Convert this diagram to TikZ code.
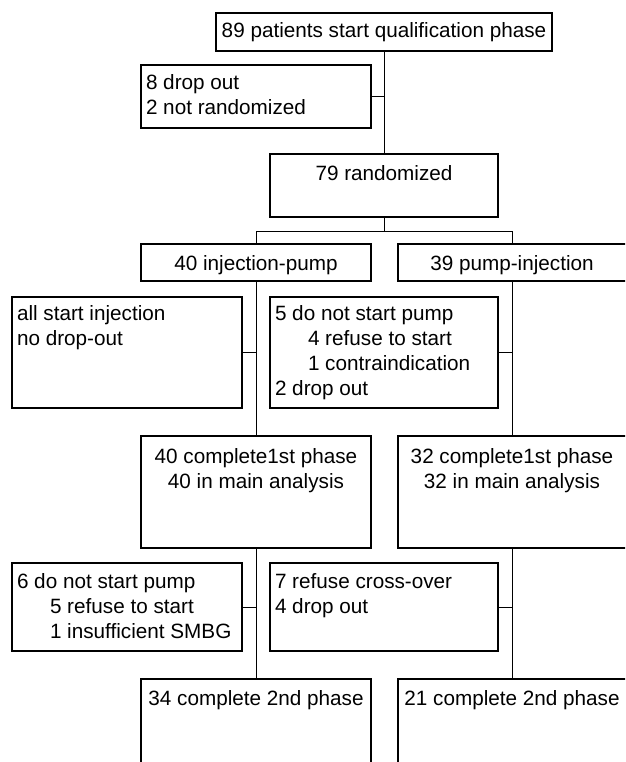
\documentclass[tikz,border=0pt]{standalone}
\usepackage{fontspec}
\setmainfont{Liberation Sans}
\begin{document}
\begin{tikzpicture}[x=1pt,y=-1pt,
  box/.style={draw=black,line width=1.5pt,rectangle,inner sep=0pt,outer sep=0pt},
  conn/.style={draw=black,line width=0.7pt},
  txt/.style={inner sep=0pt,outer sep=0pt,font=\fontsize{20.7}{25}\selectfont},
  ltxt/.style={txt,anchor=base west},
  ctxt/.style={txt,anchor=base}]
\useasboundingbox (0,0) rectangle (625,762);
\clip (0,0) rectangle (625,762);
% boxes
\node[box,minimum width=336pt,minimum height=38pt] (top) at (384,32) {};
\node[box,minimum width=230pt,minimum height=63pt] (drop) at (256,96.5) {};
\node[box,minimum width=228pt,minimum height=63pt] (rand) at (384,185.5) {};
\node[box,minimum width=230pt,minimum height=37pt] (inj) at (256,262.5) {};
\node[box,minimum width=232pt,minimum height=37pt] (pump) at (514,262.5) {};
\node[box,minimum width=230pt,minimum height=111pt] (allstart) at (127,352.5) {};
\node[box,minimum width=228pt,minimum height=111pt] (notstart) at (384,352.5) {};
\node[box,minimum width=230pt,minimum height=112pt] (compA) at (256,492) {};
\node[box,minimum width=232pt,minimum height=112pt] (compB) at (514,492) {};
\node[box,minimum width=230pt,minimum height=88pt] (six) at (127,607) {};
\node[box,minimum width=228pt,minimum height=88pt] (seven) at (384,607) {};
\node[box,minimum width=230pt,minimum height=121pt] (secA) at (256,739.5) {};
\node[box,minimum width=232pt,minimum height=121pt] (secB) at (514,739.5) {};
% connectors
\coordinate (split) at (384,231);
\coordinate (lj) at (256,231);
\coordinate (rj) at (512,231);
\draw[conn] (top.south) -- (rand.north);
\draw[conn] (drop.east) -- (drop.east -| top.south);
\draw[conn] (rand.south) -- (split);
\draw[conn] (lj) -- (rj);
\draw[conn] (lj) -- (inj.north);
\draw[conn] (rj) -- (rj |- pump.north);
\draw[conn] (inj.south) -- (compA.north);
\draw[conn] (rj |- pump.south) -- (rj |- compB.north);
\draw[conn] (allstart.east) -- (allstart.east -| inj.south);
\draw[conn] (notstart.east) -- (notstart.east -| rj);
\draw[conn] (compA.south) -- (secA.north);
\draw[conn] (rj |- compB.south) -- (rj |- secB.north);
\draw[conn] (six.east) -- (six.east -| compA.south);
\draw[conn] (seven.east) -- (seven.east -| rj);
% texts
\node[ctxt] (t1) at (384,38) {89 patients start qualification phase};
\node[ltxt] (t2) at (146,90) {8 drop out};
\node[ltxt] (t3) at (146,115) {2 not randomized};
\node[ctxt] (t4) at (384,180) {79 randomized};
\node[ctxt] (t5) at (256,270) {40 injection-pump};
\node[ctxt] (t6) at (512,270) {39 pump-injection};
\node[ltxt] (t7) at (17,320) {all start injection};
\node[ltxt] (t8) at (17,345) {no drop-out};
\node[ltxt] (t9) at (275,320) {5 do not start pump};
\node[ltxt] (t10) at (308,345) {4 refuse to start};
\node[ltxt] (t11) at (308,370) {1 contraindication};
\node[ltxt] (t12) at (275,395) {2 drop out};
\node[ctxt] (t13) at (256,463) {40 complete1st phase};
\node[ctxt] (t14) at (256,488) {40 in main analysis};
\node[ctxt] (t15) at (512,463) {32 complete1st phase};
\node[ctxt] (t16) at (512,488) {32 in main analysis};
\node[ltxt] (t17) at (17,588) {6 do not start pump};
\node[ltxt] (t18) at (50,613) {5 refuse to start};
\node[ltxt] (t19) at (50,638) {1 insufficient SMBG};
\node[ltxt] (t20) at (275,588) {7 refuse cross-over};
\node[ltxt] (t21) at (275,613) {4 drop out};
\node[ctxt] (t22) at (256,705) {34 complete 2nd phase};
\node[ctxt] (t23) at (512,705) {21 complete 2nd phase};
\end{tikzpicture}
\end{document}
